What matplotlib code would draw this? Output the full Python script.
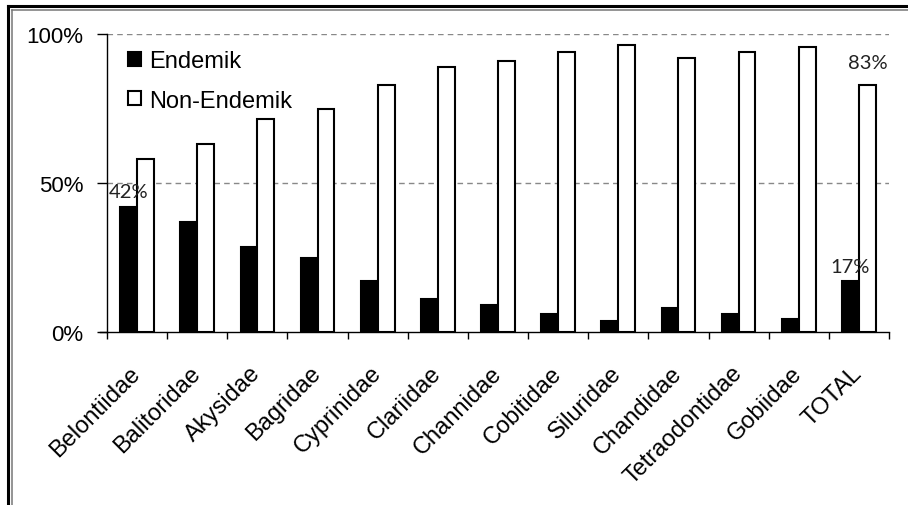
import matplotlib
matplotlib.use('Agg')
import matplotlib.pyplot as plt
import numpy as np
from matplotlib.lines import Line2D
from matplotlib.ticker import FixedLocator

plt.rcParams['font.family'] = ['Liberation Sans', 'DejaVu Sans']

families = ['Belontiidae', 'Balitoridae', 'Akysidae', 'Bagridae', 'Cyprinidae',
            'Clariidae', 'Channidae', 'Cobitidae', 'Siluridae', 'Chandidae',
            'Tetraodontidae', 'Gobiidae', 'TOTAL']
endemik = [42, 37, 28.5, 25, 17, 11, 9, 6, 3.8, 8, 6, 4.2, 17]
non_endemik = [58, 63, 71.5, 75, 83, 89, 91, 94, 96.2, 92, 94, 95.8, 83]
# values printed on the chart: (category index, series, text)
labels_shown = [(0, 'end', '42%'), (12, 'end', '17%'), (12, 'non', '83%')]

W, H = 908, 506
fig = plt.figure(figsize=(W / 100, H / 100), dpi=100)
ax = fig.add_axes([107 / W, 1 - 333 / H, (889 - 107) / W, (333 - 35) / H])

x = np.arange(len(families))
bw = 0.28
ax.bar(x - bw / 2, endemik, bw, color='black', edgecolor='black', linewidth=1.5,
       label='Endemik', zorder=3)
ax.bar(x + bw / 2, non_endemik, bw, color='white', edgecolor='black', linewidth=1.5,
       label='Non-Endemik', zorder=3)

for v in (50, 100):
    ax.axhline(v, color='#888888', lw=1, ls=(0, (4, 3)), zorder=1)

for i, s, t in labels_shown:
    if s == 'end':
        xx, yy = i - bw / 2, endemik[i] + 5
    else:
        xx, yy = i + bw / 2, non_endemik[i] + 7.5
    ax.text(xx, yy, t, ha='center', va='center', fontsize=14.5,
            family=['Lato', 'DejaVu Sans'], color='#222222', zorder=4)

ax.set_xlim(-0.5, len(families) - 0.5)
ax.set_ylim(0, 100)
ax.set_yticks([0, 50, 100])
ax.set_yticklabels(['0%', '50%', '100%'], fontsize=16)
ax.tick_params(axis='y', length=7, width=1, pad=10, direction='out')

ax.set_xticks(x)
ax.set_xticklabels(families, fontsize=17, rotation=45, ha='right', va='center',
                   rotation_mode='anchor')
ax.tick_params(axis='x', which='major', length=0, pad=27)
ax.xaxis.set_minor_locator(FixedLocator(np.arange(-0.5, len(families), 1)))
ax.tick_params(axis='x', which='minor', length=5, width=1, direction='out')

for sp in ('top', 'right'):
    ax.spines[sp].set_visible(False)
ax.spines['left'].set_linewidth(1)
ax.spines['bottom'].set_linewidth(1)
ax.spines['bottom'].set_bounds(-0.62, len(families) - 0.5)

ax.legend(loc='upper left', bbox_to_anchor=(128 / W, 1 - 51 / H),
          bbox_transform=fig.transFigure, frameon=False, fontsize=17,
          handlelength=0.55, handleheight=0.55, handletextpad=0.35,
          labelspacing=0.75, borderpad=0, borderaxespad=0)

# double frame round the picture
fig.add_artist(Line2D([7.5 / W, 7.5 / W], [0, 1 - 6.5 / H], color='black', lw=2.2,
                      transform=fig.transFigure))
fig.add_artist(Line2D([7.5 / W, 1], [1 - 6.5 / H, 1 - 6.5 / H], color='black', lw=2.2,
                      transform=fig.transFigure))
fig.add_artist(Line2D([11.7 / W, 11.7 / W], [0, 1 - 10.7 / H], color='#777777', lw=1.1,
                      transform=fig.transFigure))
fig.add_artist(Line2D([11.7 / W, 1], [1 - 10.7 / H, 1 - 10.7 / H], color='#777777', lw=1.1,
                      transform=fig.transFigure))

fig.savefig('out.png', dpi=100)
